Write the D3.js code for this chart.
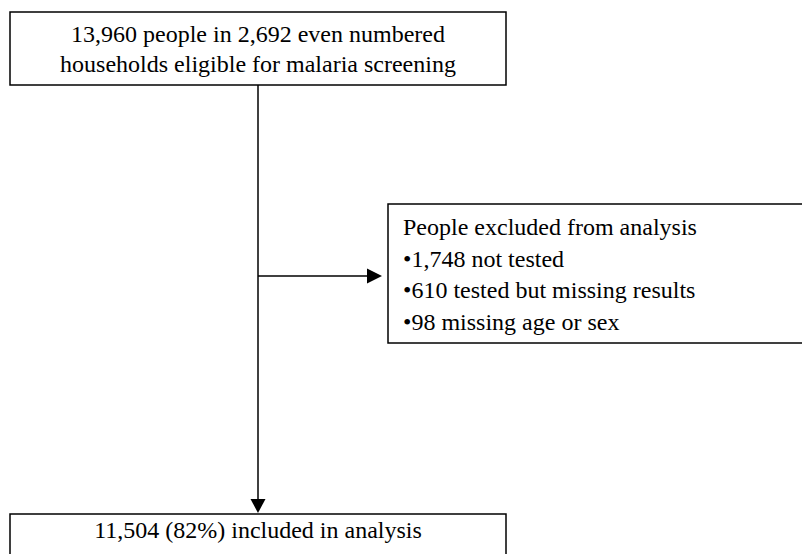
<!DOCTYPE html>
<html>
<head>
<meta charset="utf-8">
<script src="https://cdn.jsdelivr.net/npm/d3@7"></script>
<style>
  html, body { margin: 0; padding: 0; background: #fff; }
  svg { display: block; }
  text { font-family: "Liberation Serif", "Times New Roman", serif; fill: #000; }
</style>
</head>
<body>
<svg id="chart" width="802" height="554"></svg>
<script>
// ---- Data (flow counts and texts) ----
const eligiblePeople = 13960;
const eligibleHouseholds = 2692;
const excludedCounts = [1748, 610, 98];
const excludedReasons = ["not tested", "tested but missing results", "missing age or sex"];
const includedCount = 11504;
const includedPct = 82;

const fmt = d3.format(",");
const topLines = [
  `${fmt(eligiblePeople)} people in ${fmt(eligibleHouseholds)} even numbered`,
  "households eligible for malaria screening"
];
const sideLines = ["People excluded from analysis"].concat(
  excludedCounts.map((c, i) => `\u2022${fmt(c)} ${excludedReasons[i]}`)
);
const bottomLines = [`${fmt(includedCount)} (${includedPct}%) included in analysis`];

// ---- Layout ----
const svg = d3.select("#chart");
const fontSize = 24;
const lineH = 31;

const boxTop = { x: 10, y: 12, w: 496, h: 73 };
const boxSide = { x: 388, y: 204, w: 416, h: 139 };
const boxBottom = { x: 10, y: 514, w: 496, h: 60 };
const trunkX = 258;
const branchY = 276;
const head = 15;

function drawBox(b) {
  svg.append("rect")
    .attr("x", b.x).attr("y", b.y).attr("width", b.w).attr("height", b.h)
    .attr("fill", "#fff").attr("stroke", "#000").attr("stroke-width", 1.5);
}

// connectors
svg.append("line")
  .attr("x1", trunkX).attr("y1", boxTop.y + boxTop.h)
  .attr("x2", trunkX).attr("y2", boxBottom.y - head)
  .attr("stroke", "#000").attr("stroke-width", 1.5);
svg.append("path")
  .attr("d", d3.line()([[trunkX - head / 2, boxBottom.y - head], [trunkX + head / 2, boxBottom.y - head], [trunkX, boxBottom.y - 1]]) + "Z")
  .attr("fill", "#000");

svg.append("line")
  .attr("x1", trunkX).attr("y1", branchY)
  .attr("x2", boxSide.x - 6 - head).attr("y2", branchY)
  .attr("stroke", "#000").attr("stroke-width", 1.5);
svg.append("path")
  .attr("d", d3.line()([[boxSide.x - 6 - head, branchY - head / 2], [boxSide.x - 6 - head, branchY + head / 2], [boxSide.x - 6, branchY]]) + "Z")
  .attr("fill", "#000");

// boxes
drawBox(boxTop);
drawBox(boxSide);
drawBox(boxBottom);

// texts
svg.append("g").selectAll("text").data(topLines).join("text")
  .attr("x", trunkX).attr("y", (d, i) => 42 + i * 30)
  .attr("text-anchor", "middle").attr("font-size", fontSize).text(d => d);

svg.append("g").selectAll("text").data(sideLines).join("text")
  .attr("x", 403).attr("y", (d, i) => 235 + i * 31.6)
  .attr("font-size", fontSize).text(d => d);

svg.append("g").selectAll("text").data(bottomLines).join("text")
  .attr("x", trunkX).attr("y", 538)
  .attr("text-anchor", "middle").attr("font-size", fontSize).text(d => d);
</script>
</body>
</html>
